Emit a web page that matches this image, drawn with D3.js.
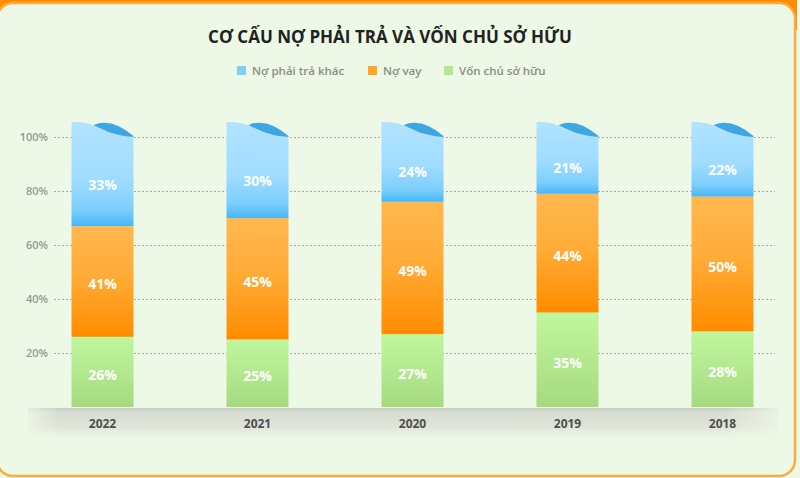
<!DOCTYPE html>
<html><head><meta charset="utf-8">
<script src="https://cdn.jsdelivr.net/npm/d3@7"></script>
<style>html,body{margin:0;padding:0;background:#eef8e6;}svg{display:block;}</style>
</head><body>
<svg id="chart" width="800" height="478"></svg>
<script>
const title = "CƠ CẤU NỢ PHẢI TRẢ VÀ VỐN CHỦ SỞ HỮU";
const years = ["2022", "2021", "2020", "2019", "2018"];
const seriesNames = ["Vốn chủ sở hữu", "Nợ vay", "Nợ phải trả khác"];
const vonChuSoHuu = [26, 25, 27, 35, 28];
const noVay = [41, 45, 49, 44, 50];
const noPhaiTraKhac = [33, 30, 24, 21, 22];
const yTicks = [20, 40, 60, 80, 100];
const legendOrder = ["Nợ phải trả khác", "Nợ vay", "Vốn chủ sở hữu"];

const svg = d3.select("#chart");
const W = 800, H = 478;
const font = "'Open Sans', 'Noto Sans', sans-serif";
const defs = svg.append("defs");

function grad(id, stops) {
  const g = defs.append("linearGradient").attr("id", id)
    .attr("x1", 0).attr("y1", 0).attr("x2", 0).attr("y2", 1);
  stops.forEach(s => g.append("stop").attr("offset", s[0]).attr("stop-color", s[1]).attr("stop-opacity", s[2] == null ? 1 : s[2]));
}
grad("gBlue", [[0, "#b2e3ff"], [0.55, "#a0dcff"], [0.85, "#7ccefc"], [1, "#45b6f5"]]);
grad("gOrange", [[0, "#ffb850"], [0.45, "#ffac38"], [1, "#ff8c00"]]);
grad("gGreen", [[0, "#c0f69e"], [1, "#a5da80"]]);
grad("gShelf", [[0, "#c6ccc2"], [0.12, "#d8ddd3"], [0.6, "#e0e6da"], [1, "#eef8e6", 0]]);
const hg = defs.append("linearGradient").attr("id", "gShelfH").attr("x1", 0).attr("x2", 1).attr("y1", 0).attr("y2", 0);
[[0, 0.2], [0.04, 1], [0.93, 1], [1, 0.2]].forEach(s => hg.append("stop").attr("offset", s[0]).attr("stop-color", "#fff").attr("stop-opacity", s[1]));
defs.append("mask").attr("id", "mShelf").append("rect")
  .attr("x", 28).attr("y", 400).attr("width", 750).attr("height", 50).attr("fill", "url(#gShelfH)");

// frame
svg.append("rect").attr("width", W).attr("height", H).attr("fill", "#eef8e6");
svg.append("rect").attr("x", 0).attr("y", 0).attr("width", 797).attr("height", 30).attr("fill", "#ff8c00");
svg.append("rect").attr("x", -3).attr("y", 3).attr("width", 798).attr("height", 473).attr("rx", 16)
  .attr("fill", "#eef8e6").attr("stroke", "#ffaa3c").attr("stroke-width", 2.5);

// title
svg.append("text").attr("x", 390).attr("y", 43).attr("text-anchor", "middle")
  .attr("font-family", font).attr("font-weight", 700).attr("font-size", 17).attr("fill", "#222")
  .text(title);

// scales
const x = d3.scaleBand().domain(years).range([25, 800]).paddingInner(0.6).paddingOuter(0.3);
const y = d3.scaleLinear().domain([0, 100]).range([407, 137]);

// shelf
svg.append("rect").attr("x", 28).attr("y", 408).attr("width", 750).attr("height", 34)
  .attr("fill", "url(#gShelf)").attr("mask", "url(#mShelf)");

// grid
const grid = svg.append("g").attr("transform", "translate(54,0)")
  .call(d3.axisLeft(y).tickValues(yTicks).tickSize(-721).tickFormat(""));
grid.select(".domain").remove();
grid.selectAll("line").attr("stroke", "#a9aca6").attr("stroke-dasharray", "2,2").attr("stroke-width", 1);

// y labels
const ya = svg.append("g").attr("transform", "translate(48,0)")
  .call(d3.axisLeft(y).tickValues(yTicks).tickSize(0).tickPadding(0).tickFormat(d => d + "%"));
ya.select(".domain").remove();
ya.selectAll("text").attr("font-family", font).attr("font-size", 11).attr("font-weight", 600).attr("fill", "#959893");

// x labels
const xa = svg.append("g").attr("transform", "translate(0,419)")
  .call(d3.axisBottom(x).tickSize(0).tickPadding(0));
xa.select(".domain").remove();
xa.selectAll("text").attr("font-family", font).attr("font-size", 12).attr("font-weight", 700).attr("fill", "#4d504c");

// stacked data
const rows = years.map((yr, i) => ({ year: yr, "Vốn chủ sở hữu": vonChuSoHuu[i], "Nợ vay": noVay[i], "Nợ phải trả khác": noPhaiTraKhac[i] }));
const stack = d3.stack().keys(seriesNames)(rows);
const fills = { "Vốn chủ sở hữu": "url(#gGreen)", "Nợ vay": "url(#gOrange)", "Nợ phải trả khác": "url(#gBlue)" };
const bw = x.bandwidth();

stack.forEach(layer => {
  const key = layer.key;
  const g = svg.append("g");
  layer.forEach(d => {
    const x0 = x(d.data.year);
    const yb = y(d[0]), yt = y(d[1]);
    if (key === "Nợ phải trả khác") {
      const s = bw / 62;
      const p = d3.path();
      p.moveTo(x0, yb);
      p.lineTo(x0, yt - 15);
      p.bezierCurveTo(x0 + 12 * s, yt - 15.5, x0 + 18 * s, yt - 13, x0 + 24 * s, yt - 11);
      p.bezierCurveTo(x0 + 34 * s, yt - 6, x0 + 44 * s, yt - 1, x0 + bw, yt);
      p.lineTo(x0 + bw, yb);
      p.closePath();
      g.append("path").attr("d", p.toString()).attr("fill", fills[key]);
      const c = d3.path();
      c.moveTo(x0 + 22 * s, yt - 12);
      c.quadraticCurveTo(x0 + 40 * s, yt - 20, x0 + bw, yt - 1);
      c.lineTo(x0 + bw, yt);
      c.bezierCurveTo(x0 + 44 * s, yt - 1, x0 + 34 * s, yt - 6, x0 + 22 * s, yt - 12);
      c.closePath();
      g.append("path").attr("d", c.toString()).attr("fill", "#3ea6e3");
    } else {
      g.append("rect").attr("x", x0).attr("y", yt).attr("width", bw).attr("height", yb - yt).attr("fill", fills[key]);
    }
    g.append("text").attr("x", x0 + bw / 2).attr("y", (yt + yb) / 2 + 3).attr("dy", "0.36em")
      .attr("text-anchor", "middle").attr("font-family", font).attr("font-weight", 700)
      .attr("font-size", 14).attr("fill", "#fff").text((d[1] - d[0]) + "%");
  });
});

// legend
const legendColors = { "Nợ phải trả khác": "#7fcffb", "Nợ vay": "#ffa526", "Vốn chủ sở hữu": "#b3e88f" };
const legendX = [237, 368, 444];
const lg = svg.append("g");
legendOrder.forEach((name, i) => {
  const it = lg.append("g").attr("transform", `translate(${legendX[i]},66)`);
  it.append("rect").attr("width", 9).attr("height", 9).attr("fill", legendColors[name]);
  it.append("text").attr("x", 15).attr("y", 8.5).attr("font-family", font).attr("font-size", 11.5)
    .attr("font-weight", 600).attr("fill", "#8a8d88").text(name);
});
</script>
</body></html>
